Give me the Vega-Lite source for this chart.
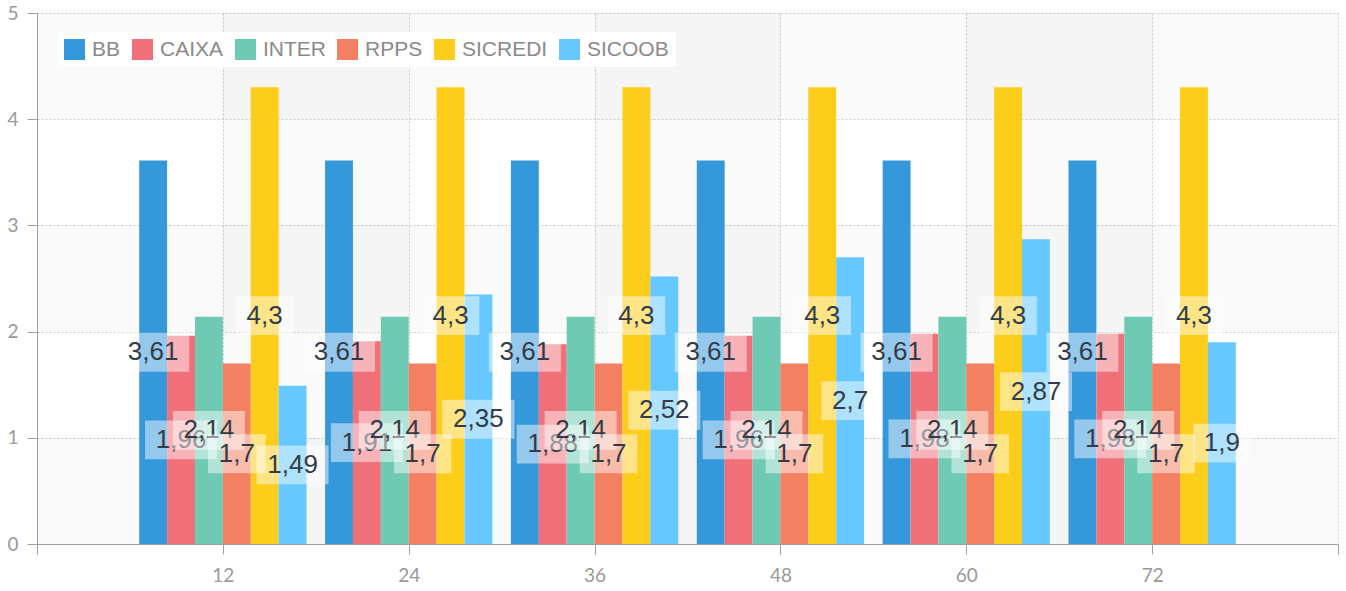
{
  "$schema": "https://vega.github.io/schema/vega-lite/v6.json",
  "width": 1301,
  "height": 531,
  "autosize": {"type": "none"},
  "padding": {"left": 37, "top": 13, "right": 8, "bottom": 47},
  "background": "white",
  "config": {
    "view": {"stroke": null},
    "axisX": {
      "domainColor": "#a0a0a0", "tickColor": "#a0a0a0", "tickSize": 10,
      "labelFont": "Lato", "labelFontSize": 19, "labelColor": "#999999", "labelPadding": 12,
      "grid": true, "gridColor": "#cccccc", "gridDash": [2, 2], "title": null
    },
    "axisY": {
      "domainColor": "#a0a0a0", "tickColor": "#a0a0a0", "tickSize": 10,
      "labelFont": "Lato", "labelFontSize": 19, "labelColor": "#999999", "labelPadding": 9,
      "grid": true, "gridColor": "#cccccc", "gridDash": [2, 2], "title": null
    }
  },
  "datasets": {
    "bands": [
      {"x0": 0, "x1": 84, "y0": 0, "y1": 1},
      {"x0": 0, "x1": 84, "y0": 2, "y1": 3},
      {"x0": 0, "x1": 84, "y0": 4, "y1": 5},
      {"x0": 12, "x1": 24, "y0": 0, "y1": 5},
      {"x0": 36, "x1": 48, "y0": 0, "y1": 5},
      {"x0": 60, "x1": 72, "y0": 0, "y1": 5}
    ],
    "bars": [
      {"term": 12, "bank": "BB", "value": 3.61},
      {"term": 12, "bank": "CAIXA", "value": 1.96},
      {"term": 12, "bank": "INTER", "value": 2.14},
      {"term": 12, "bank": "RPPS", "value": 1.7},
      {"term": 12, "bank": "SICREDI", "value": 4.3},
      {"term": 12, "bank": "SICOOB", "value": 1.49},
      {"term": 24, "bank": "BB", "value": 3.61},
      {"term": 24, "bank": "CAIXA", "value": 1.91},
      {"term": 24, "bank": "INTER", "value": 2.14},
      {"term": 24, "bank": "RPPS", "value": 1.7},
      {"term": 24, "bank": "SICREDI", "value": 4.3},
      {"term": 24, "bank": "SICOOB", "value": 2.35},
      {"term": 36, "bank": "BB", "value": 3.61},
      {"term": 36, "bank": "CAIXA", "value": 1.88},
      {"term": 36, "bank": "INTER", "value": 2.14},
      {"term": 36, "bank": "RPPS", "value": 1.7},
      {"term": 36, "bank": "SICREDI", "value": 4.3},
      {"term": 36, "bank": "SICOOB", "value": 2.52},
      {"term": 48, "bank": "BB", "value": 3.61},
      {"term": 48, "bank": "CAIXA", "value": 1.96},
      {"term": 48, "bank": "INTER", "value": 2.14},
      {"term": 48, "bank": "RPPS", "value": 1.7},
      {"term": 48, "bank": "SICREDI", "value": 4.3},
      {"term": 48, "bank": "SICOOB", "value": 2.7},
      {"term": 60, "bank": "BB", "value": 3.61},
      {"term": 60, "bank": "CAIXA", "value": 1.98},
      {"term": 60, "bank": "INTER", "value": 2.14},
      {"term": 60, "bank": "RPPS", "value": 1.7},
      {"term": 60, "bank": "SICREDI", "value": 4.3},
      {"term": 60, "bank": "SICOOB", "value": 2.87},
      {"term": 72, "bank": "BB", "value": 3.61},
      {"term": 72, "bank": "CAIXA", "value": 1.98},
      {"term": 72, "bank": "INTER", "value": 2.14},
      {"term": 72, "bank": "RPPS", "value": 1.7},
      {"term": 72, "bank": "SICREDI", "value": 4.3},
      {"term": 72, "bank": "SICOOB", "value": 1.9}
    ]
  },
  "resolve": {"scale": {"x": "independent"}},
  "layer": [
    {
      "data": {"name": "bands"},
      "mark": {"type": "rect", "fill": "black", "fillOpacity": 0.02, "strokeWidth": 0},
      "encoding": {
        "x": {"field": "x0", "type": "quantitative", "scale": {"domain": [0, 84], "nice": false, "zero": false},
              "axis": {"values": [0, 12, 24, 36, 48, 60, 72, 84], "labelExpr": "datum.value == 0 || datum.value == 84 ? '' : datum.label"}},
        "x2": {"field": "x1"},
        "y": {"field": "y0", "type": "quantitative", "scale": {"domain": [0, 5], "nice": false}, "axis": {"values": [0, 1, 2, 3, 4, 5], "format": "d"}},
        "y2": {"field": "y1"}
      }
    },
    {
      "data": {"name": "bars"},
      "transform": [
        {"calculate": "datum.value / 2", "as": "mid"},
        {"calculate": "replace(format(datum.value, '.2~f'), '.', ',')", "as": "label"}
      ],
      "encoding": {
        "x": {"field": "term", "type": "ordinal", "axis": null, "scale": {"paddingInner": 0, "paddingOuter": 0.5}},
        "xOffset": {"field": "bank", "type": "nominal", "sort": ["BB", "CAIXA", "INTER", "RPPS", "SICREDI", "SICOOB"], "scale": {"paddingInner": 0, "paddingOuter": 0.333}}
      },
      "layer": [
        {
          "mark": {"type": "bar", "strokeWidth": 0},
          "encoding": {
            "y": {"field": "value", "type": "quantitative", "title": null, "scale": {"domain": [0, 5], "nice": false}, "axis": {"values": [0, 1, 2, 3, 4, 5], "format": "d"}},
            "color": {
              "field": "bank", "type": "nominal",
              "scale": {"domain": ["BB", "CAIXA", "INTER", "RPPS", "SICREDI", "SICOOB"], "range": ["#3598db", "#f07079", "#6ecab3", "#f38062", "#fccd1b", "#66c8fe"]},
              "legend": {
                "title": null, "orient": "none", "legendX": 20, "legendY": 19, "direction": "horizontal",
                "fillColor": "white", "padding": 7, "symbolType": "square", "symbolSize": 441, "symbolStrokeWidth": 0,
                "symbolOpacity": 1, "labelFont": "Liberation Sans", "labelFontSize": 21, "labelColor": "#8a8a8a",
                "labelOffset": 7, "columnPadding": 11
              }
            }
          }
        },
        {"transform": [{"filter": "datum.bank === 'BB'"}], "mark": {"type": "point", "filled": true, "fill": "white", "fillOpacity": 0.47, "strokeWidth": 0, "size": 5184},
         "encoding": {"y": {"field": "mid", "type": "quantitative", "title": null, "axis": {"values": [0, 1, 2, 3, 4, 5], "format": "d"}}, "shape": {"condition": {"test": "length(datum.label) > 3", "value": "M-1,-0.54H1V0.54H-1Z"}, "value": "M-0.8,-0.54H0.8V0.54H-0.8Z"}}},
        {"transform": [{"filter": "datum.bank === 'BB'"}], "mark": {"type": "text", "font": "Liberation Sans", "fontSize": 26, "color": "#333c46", "align": "center", "baseline": "middle"},
         "encoding": {"y": {"field": "mid", "type": "quantitative", "title": null, "axis": {"values": [0, 1, 2, 3, 4, 5], "format": "d"}}, "text": {"field": "label"}}},
        {"transform": [{"filter": "datum.bank === 'CAIXA'"}], "mark": {"type": "point", "filled": true, "fill": "white", "fillOpacity": 0.47, "strokeWidth": 0, "size": 5184},
         "encoding": {"y": {"field": "mid", "type": "quantitative", "title": null, "axis": {"values": [0, 1, 2, 3, 4, 5], "format": "d"}}, "shape": {"condition": {"test": "length(datum.label) > 3", "value": "M-1,-0.54H1V0.54H-1Z"}, "value": "M-0.8,-0.54H0.8V0.54H-0.8Z"}}},
        {"transform": [{"filter": "datum.bank === 'CAIXA'"}], "mark": {"type": "text", "font": "Liberation Sans", "fontSize": 26, "color": "#333c46", "align": "center", "baseline": "middle"},
         "encoding": {"y": {"field": "mid", "type": "quantitative", "title": null, "axis": {"values": [0, 1, 2, 3, 4, 5], "format": "d"}}, "text": {"field": "label"}}},
        {"transform": [{"filter": "datum.bank === 'INTER'"}], "mark": {"type": "point", "filled": true, "fill": "white", "fillOpacity": 0.47, "strokeWidth": 0, "size": 5184},
         "encoding": {"y": {"field": "mid", "type": "quantitative", "title": null, "axis": {"values": [0, 1, 2, 3, 4, 5], "format": "d"}}, "shape": {"condition": {"test": "length(datum.label) > 3", "value": "M-1,-0.54H1V0.54H-1Z"}, "value": "M-0.8,-0.54H0.8V0.54H-0.8Z"}}},
        {"transform": [{"filter": "datum.bank === 'INTER'"}], "mark": {"type": "text", "font": "Liberation Sans", "fontSize": 26, "color": "#333c46", "align": "center", "baseline": "middle"},
         "encoding": {"y": {"field": "mid", "type": "quantitative", "title": null, "axis": {"values": [0, 1, 2, 3, 4, 5], "format": "d"}}, "text": {"field": "label"}}},
        {"transform": [{"filter": "datum.bank === 'RPPS'"}], "mark": {"type": "point", "filled": true, "fill": "white", "fillOpacity": 0.47, "strokeWidth": 0, "size": 5184},
         "encoding": {"y": {"field": "mid", "type": "quantitative", "title": null, "axis": {"values": [0, 1, 2, 3, 4, 5], "format": "d"}}, "shape": {"condition": {"test": "length(datum.label) > 3", "value": "M-1,-0.54H1V0.54H-1Z"}, "value": "M-0.8,-0.54H0.8V0.54H-0.8Z"}}},
        {"transform": [{"filter": "datum.bank === 'RPPS'"}], "mark": {"type": "text", "font": "Liberation Sans", "fontSize": 26, "color": "#333c46", "align": "center", "baseline": "middle"},
         "encoding": {"y": {"field": "mid", "type": "quantitative", "title": null, "axis": {"values": [0, 1, 2, 3, 4, 5], "format": "d"}}, "text": {"field": "label"}}},
        {"transform": [{"filter": "datum.bank === 'SICREDI'"}], "mark": {"type": "point", "filled": true, "fill": "white", "fillOpacity": 0.47, "strokeWidth": 0, "size": 5184},
         "encoding": {"y": {"field": "mid", "type": "quantitative", "title": null, "axis": {"values": [0, 1, 2, 3, 4, 5], "format": "d"}}, "shape": {"condition": {"test": "length(datum.label) > 3", "value": "M-1,-0.54H1V0.54H-1Z"}, "value": "M-0.8,-0.54H0.8V0.54H-0.8Z"}}},
        {"transform": [{"filter": "datum.bank === 'SICREDI'"}], "mark": {"type": "text", "font": "Liberation Sans", "fontSize": 26, "color": "#333c46", "align": "center", "baseline": "middle"},
         "encoding": {"y": {"field": "mid", "type": "quantitative", "title": null, "axis": {"values": [0, 1, 2, 3, 4, 5], "format": "d"}}, "text": {"field": "label"}}},
        {"transform": [{"filter": "datum.bank === 'SICOOB'"}], "mark": {"type": "point", "filled": true, "fill": "white", "fillOpacity": 0.47, "strokeWidth": 0, "size": 5184},
         "encoding": {"y": {"field": "mid", "type": "quantitative", "title": null, "axis": {"values": [0, 1, 2, 3, 4, 5], "format": "d"}}, "shape": {"condition": {"test": "length(datum.label) > 3", "value": "M-1,-0.54H1V0.54H-1Z"}, "value": "M-0.8,-0.54H0.8V0.54H-0.8Z"}}},
        {"transform": [{"filter": "datum.bank === 'SICOOB'"}], "mark": {"type": "text", "font": "Liberation Sans", "fontSize": 26, "color": "#333c46", "align": "center", "baseline": "middle"},
         "encoding": {"y": {"field": "mid", "type": "quantitative", "title": null, "axis": {"values": [0, 1, 2, 3, 4, 5], "format": "d"}}, "text": {"field": "label"}}}
      ]
    }
  ]
}
